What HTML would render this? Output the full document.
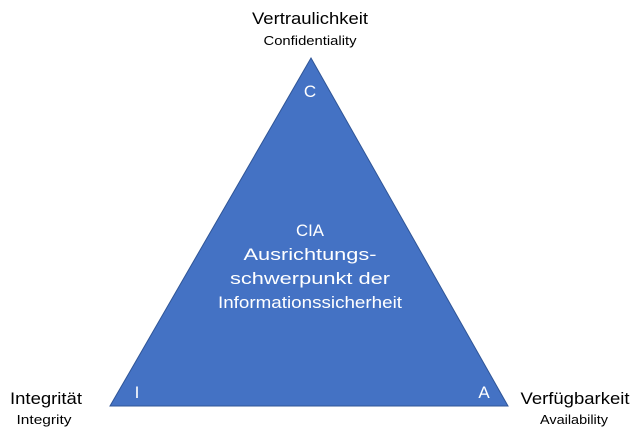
<!DOCTYPE html>
<html><head><style>
html,body{margin:0;padding:0;background:#fff;}
svg{display:block;}
text{font-family:"Liberation Sans","DejaVu Sans",sans-serif;}
</style></head><body>
<svg width="640" height="432" viewBox="0 0 640 432">
<polygon points="311,58 110,406 508,406" fill="#4472C4" stroke="#2F5597" stroke-width="1"/>
<g fill="#000" text-anchor="middle">
<text x="310" y="24" font-size="17" textLength="116" lengthAdjust="spacingAndGlyphs">Vertraulichkeit</text>
<text x="310" y="45" font-size="13" textLength="93" lengthAdjust="spacingAndGlyphs">Confidentiality</text>
<text x="46" y="404" font-size="17" textLength="72" lengthAdjust="spacingAndGlyphs">Integrität</text>
<text x="44" y="424" font-size="13" textLength="55" lengthAdjust="spacingAndGlyphs">Integrity</text>
<text x="575" y="404" font-size="17" textLength="109" lengthAdjust="spacingAndGlyphs">Verfügbarkeit</text>
<text x="574" y="424" font-size="13" textLength="68" lengthAdjust="spacingAndGlyphs">Availability</text>
</g>
<g fill="#fff" text-anchor="middle" font-size="17">
<text x="310" y="97">C</text>
<text x="137" y="398">I</text>
<text x="484" y="398">A</text>
<text x="310" y="236" textLength="28" lengthAdjust="spacingAndGlyphs">CIA</text>
<text x="310" y="260" textLength="133" lengthAdjust="spacingAndGlyphs">Ausrichtungs-</text>
<text x="310" y="284" textLength="160" lengthAdjust="spacingAndGlyphs">schwerpunkt der</text>
<text x="310" y="308" textLength="184" lengthAdjust="spacingAndGlyphs">Informationssicherheit</text>
</g>
</svg>
</body></html>
